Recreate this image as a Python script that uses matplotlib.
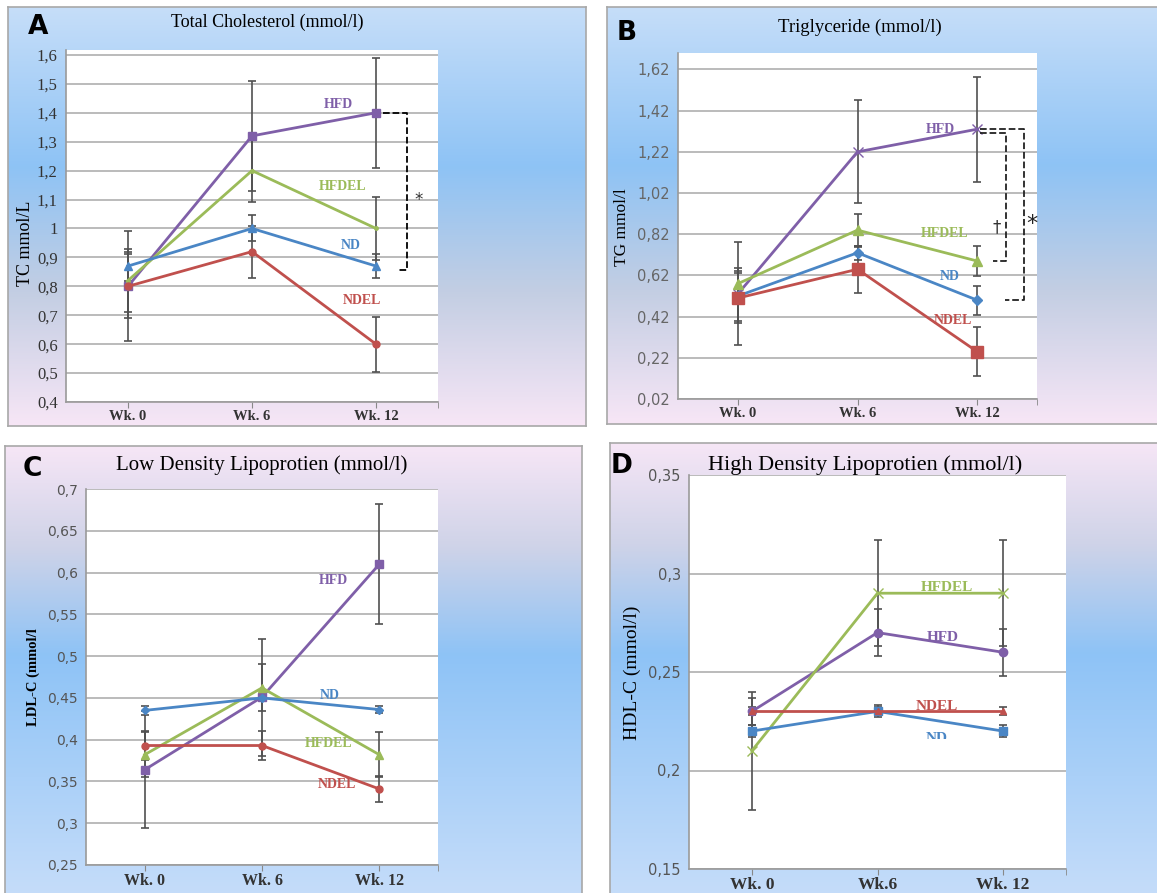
import numpy as np
import matplotlib
matplotlib.use('Agg')
from matplotlib import pyplot as plt
from matplotlib.colors import LinearSegmentedColormap
from matplotlib.transforms import Bbox, TransformedBbox

W, H = 1157, 893

weeks = ['Wk. 0', 'Wk. 6', 'Wk. 12']
weeks_d = ['Wk. 0', 'Wk.6', 'Wk. 12']
groups = ['HFD', 'HFDEL', 'ND', 'NDEL']

# A - total cholesterol
tc_mean = {'HFD': [0.80, 1.32, 1.40], 'HFDEL': [0.82, 1.20, 1.00],
           'ND': [0.87, 1.00, 0.87], 'NDEL': [0.80, 0.92, 0.60]}
tc_err = {'HFD': [0.19, 0.19, 0.19], 'HFDEL': [0.11, 0.11, 0.11],
          'ND': [0.05, 0.045, 0.04], 'NDEL': [0.11, 0.09, 0.095]}
tc_ticks = [0.4, 0.5, 0.6, 0.7, 0.8, 0.9, 1.0, 1.1, 1.2, 1.3, 1.4, 1.5, 1.6]
tc_labels = ['0,4', '0,5', '0,6', '0,7', '0,8', '0,9', '1', '1,1', '1,2', '1,3', '1,4', '1,5', '1,6']

# B - triglyceride
tg_mean = {'HFD': [0.53, 1.22, 1.33], 'HFDEL': [0.58, 0.84, 0.69],
           'ND': [0.52, 0.73, 0.50], 'NDEL': [0.51, 0.65, 0.25]}
tg_err = {'HFD': [0.25, 0.25, 0.255], 'HFDEL': [0.075, 0.08, 0.075],
          'ND': [0.12, 0.035, 0.07], 'NDEL': [0.12, 0.115, 0.12]}
tg_ticks = [0.02, 0.22, 0.42, 0.62, 0.82, 1.02, 1.22, 1.42, 1.62]
tg_labels = ['0,02', '0,22', '0,42', '0,62', '0,82', '1,02', '1,22', '1,42', '1,62']

# C - LDL
ldl_mean = {'HFD': [0.364, 0.451, 0.610], 'HFDEL': [0.382, 0.462, 0.382],
            'ND': [0.435, 0.450, 0.436], 'NDEL': [0.393, 0.393, 0.341]}
ldl_err = {'HFD': [0.07, 0.07, 0.072], 'HFDEL': [0.027, 0.028, 0.027],
           'ND': [0.005, 0.004, 0.004], 'NDEL': [0.017, 0.017, 0.016]}
ldl_ticks = [0.25, 0.3, 0.35, 0.4, 0.45, 0.5, 0.55, 0.6, 0.65, 0.7]
ldl_labels = ['0,25', '0,3', '0,35', '0,4', '0,45', '0,5', '0,55', '0,6', '0,65', '0,7']

# D - HDL
hdl_mean = {'HFD': [0.23, 0.27, 0.26], 'HFDEL': [0.21, 0.29, 0.29],
            'ND': [0.22, 0.23, 0.22], 'NDEL': [0.23, 0.23, 0.23]}
hdl_err = {'HFD': [0.007, 0.012, 0.012], 'HFDEL': [0.03, 0.027, 0.027],
           'ND': [0.003, 0.003, 0.003], 'NDEL': [0.002, 0.002, 0.002]}
hdl_ticks = [0.15, 0.2, 0.25, 0.3, 0.35]
hdl_labels = ['0,15', '0,2', '0,25', '0,3', '0,35']

colors = {'HFD': '#7f5fa8', 'HFDEL': '#9bbb59', 'ND': '#4a86c5', 'NDEL': '#c0504d'}
serif = 'Liberation Serif'


def px(l, t, r, b):
    return [l / W, 1 - b / H, (r - l) / W, (b - t) / H]


def background(rect, stops):
    ax = fig.add_axes(px(*rect))
    cmap = LinearSegmentedColormap.from_list('bg', stops)
    grad = np.linspace(0, 1, 256).reshape(-1, 1)
    ax.imshow(grad, aspect='auto', cmap=cmap, extent=[0, 1, 0, 1], origin='upper')
    ax.set_xticks([])
    ax.set_yticks([])
    for s in ax.spines.values():
        s.set_color('#a8a8a8')
        s.set_linewidth(1.2)
    return ax


def plot_panel(rect, means, errs, markers, ticks, labels, ylim, xlabels, tickfont, tickcolor,
               xsize=10.5, ysize=10.5):
    ax = fig.add_axes(px(*rect))
    ax.set_facecolor('white')
    x = np.arange(3)
    for g in groups:
        m, ms = markers[g]
        ax.errorbar(x, means[g], yerr=errs[g], color=colors[g], lw=2, marker=m, ms=ms,
                    mec=colors[g], ecolor='#505050', elinewidth=1.2, capsize=3, capthick=1.2,
                    zorder=3)
    ax.set_xlim(-0.5, 2.5)
    ax.set_ylim(*ylim)
    ax.set_yticks(ticks)
    ax.set_yticklabels(labels, family=tickfont, fontsize=ysize, color=tickcolor)
    ax.set_xticks(x)
    ax.set_xticks([2.5], minor=True)
    ax.set_xticklabels(xlabels, family=serif, fontweight='bold', fontsize=xsize, color='#333333')
    ax.tick_params(axis='y', length=0, pad=6)
    ax.tick_params(axis='x', which='both', direction='out', length=4, color='#888888', pad=2)
    ax.grid(axis='y', color='#a8a8a8', lw=1.1)
    ax.set_axisbelow(True)
    for s in ['top', 'right']:
        ax.spines[s].set_visible(False)
    for s in ['left', 'bottom']:
        ax.spines[s].set_color('#9a9a9a')
        ax.spines[s].set_linewidth(1.2)
    return ax


def label(ax, g, x, y, size=10):
    return ax.text(x, y, g, color=colors[g], fontweight='bold', family=serif,
                   fontsize=size, ha='center', va='center', zorder=4)


fig = plt.figure(figsize=(W / 100, H / 100), dpi=100)

top_stops = [(0.0, '#c6def9'), (0.38, '#8ec3f5'), (0.68, '#c3cee3'), (1.0, '#f7e6f6')]
bot_stops = [(0.0, '#f6e6f6'), (0.22, '#cfd3e8'), (0.46, '#8ec3f6'), (1.0, '#c6ddfa')]

background((8, 7, 586, 426), top_stops)
background((607, 7, 1162, 424), top_stops)
background((5, 446, 582, 900), bot_stops)
background((610, 443, 1162, 900), bot_stops)

# panel A
axA = plot_panel((66, 50, 438, 402), tc_mean, tc_err,
                 {'HFD': ('s', 6), 'HFDEL': ('.', 5), 'ND': ('^', 6), 'NDEL': ('o', 5)},
                 tc_ticks, tc_labels, (0.4, 1.617), weeks, serif, '#333333', ysize=12)
label(axA, 'HFD', 1.70, 1.43)
label(axA, 'HFDEL', 1.73, 1.144)
label(axA, 'ND', 1.80, 0.94)
label(axA, 'NDEL', 1.89, 0.75)
axA.plot([2.06, 2.25, 2.25, 2.18], [1.40, 1.40, 0.857, 0.857], ls='--', color='black', lw=1.3, zorder=4)
axA.text(2.34, 1.10, '*', fontsize=12, ha='center', va='center', color='#333333')
fig.text(38 / W, 1 - 27 / H, 'A', fontsize=19, fontweight='bold', family='DejaVu Sans', ha='center', va='center')
fig.text(267 / W, 1 - 22 / H, 'Total Cholesterol (mmol/l)', fontsize=13, family=serif, ha='center', va='center')
fig.text(25 / W, 1 - 243 / H, 'TC mmol/L', fontsize=13, family=serif, rotation=90, ha='center', va='center')

# panel B
axB = plot_panel((678, 53, 1037, 399), tg_mean, tg_err,
                 {'HFD': ('x', 7), 'HFDEL': ('^', 7), 'ND': ('D', 5), 'NDEL': ('s', 8)},
                 tg_ticks, tg_labels, (0.02, 1.70), weeks, 'DejaVu Sans', '#666666')
label(axB, 'HFD', 1.69, 1.33)
label(axB, 'HFDEL', 1.73, 0.825)
label(axB, 'ND', 1.77, 0.617)
label(axB, 'NDEL', 1.80, 0.40)
axB.plot([2.02, 2.24, 2.24, 2.13], [1.31, 1.31, 0.69, 0.69], ls='--', color='#222222', lw=1.3, zorder=4)
axB.plot([2.02, 2.39, 2.39, 2.23], [1.33, 1.33, 0.50, 0.50], ls='--', color='#222222', lw=1.3, zorder=4)
axB.text(2.16, 0.855, '\u2020', fontsize=12, ha='center', va='center', color='#333333')
axB.text(2.46, 0.87, '*', fontsize=16, ha='center', va='center', color='#222222')
fig.text(627 / W, 1 - 33 / H, 'B', fontsize=19, fontweight='bold', family='DejaVu Sans', ha='center', va='center')
fig.text(860 / W, 1 - 27 / H, 'Triglyceride (mmol/l)', fontsize=13.5, family=serif, ha='center', va='center')
fig.text(622 / W, 1 - 227 / H, 'TG mmol/l', fontsize=12.5, family=serif, rotation=90, ha='center', va='center')

# panel C
axC = plot_panel((86, 489, 438, 865), ldl_mean, ldl_err,
                 {'HFD': ('s', 6), 'HFDEL': ('^', 6), 'ND': ('D', 4), 'NDEL': ('o', 5)},
                 ldl_ticks, ldl_labels, (0.25, 0.7), weeks, 'DejaVu Sans', '#555555', 11.5, 10)
label(axC, 'HFD', 1.61, 0.591)
label(axC, 'ND', 1.58, 0.453)
label(axC, 'HFDEL', 1.57, 0.396)
label(axC, 'NDEL', 1.64, 0.346)
fig.text(32 / W, 1 - 469 / H, 'C', fontsize=19, fontweight='bold', family='DejaVu Sans', ha='center', va='center')
fig.text(262 / W, 1 - 465 / H, 'Low Density Lipoprotien (mmol/l)', fontsize=15, family=serif, ha='center', va='center')
fig.text(33 / W, 1 - 677 / H, 'LDL-C (mmol/l', fontsize=10.5, family=serif, fontweight='bold',
         rotation=90, ha='center', va='center')

# panel D
axD = plot_panel((689, 475, 1066, 869), hdl_mean, hdl_err,
                 {'HFD': ('o', 6), 'HFDEL': ('x', 7), 'ND': ('s', 6), 'NDEL': ('^', 5)},
                 hdl_ticks, hdl_labels, (0.15, 0.35), weeks_d, 'DejaVu Sans', '#555555', 12.5)
label(axD, 'HFDEL', 1.55, 0.293, 11)
label(axD, 'HFD', 1.52, 0.2677, 11)
label(axD, 'NDEL', 1.47, 0.2325, 11)
nd = label(axD, 'ND', 1.47, 0.2160, 11)
nd.set_clip_on(True)
nd.set_clip_box(TransformedBbox(Bbox([[0, 0.2162], [3, 0.3]]), axD.transData))
fig.text(622 / W, 1 - 466 / H, 'D', fontsize=19, fontweight='bold', family='DejaVu Sans', ha='center', va='center')
fig.text(865 / W, 1 - 465 / H, 'High Density Lipoprotien (mmol/l)', fontsize=16, family=serif, ha='center', va='center')
fig.text(632 / W, 1 - 673 / H, 'HDL-C (mmol/l)', fontsize=14, family=serif, rotation=90, ha='center', va='center')

plt.savefig('out.png', dpi=100)
